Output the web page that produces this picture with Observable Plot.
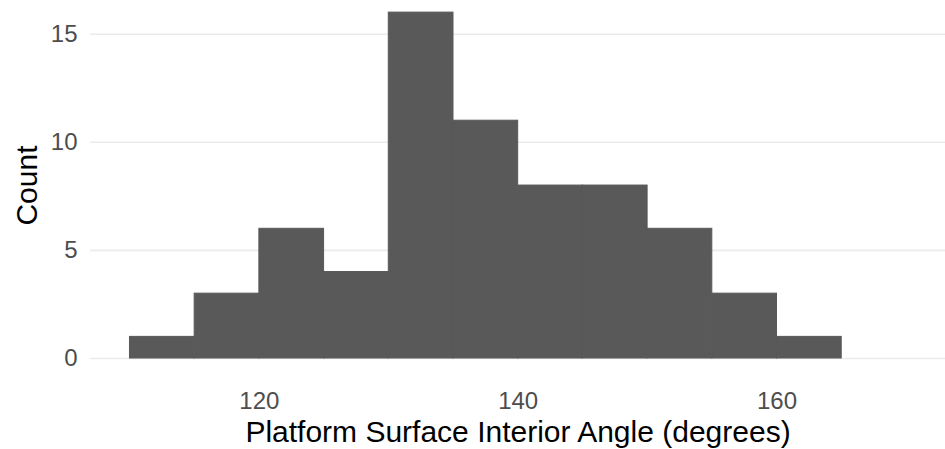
<!DOCTYPE html>
<html>
<head>
<meta charset="utf-8">
<script src="https://cdn.jsdelivr.net/npm/d3@7"></script>
<script src="https://cdn.jsdelivr.net/npm/@observablehq/plot@0.6"></script>
<style>
  html, body { margin: 0; padding: 0; background: #ffffff; }
  #chart svg { display: block; }
</style>
</head>
<body>
<div id="chart"></div>
<script>
// Histogram bins (left edges), bin width and counts
const binStart = [110, 115, 120, 125, 130, 135, 140, 145, 150, 155, 160];
const counts   = [1, 3, 6, 4, 16, 11, 8, 8, 6, 3, 1];
const binWidth = 5;
const xTicks = [120, 140, 160];
const yTicks = [0, 5, 10, 15];
const xTitle = "Platform Surface Interior Angle (degrees)";
const yTitle = "Count";

const bins = binStart.map((s, i) => ({start: s, end: s + binWidth, count: counts[i]}));

const chart = Plot.plot({
  width: 945,
  height: 449,
  marginLeft: 90,
  marginRight: 0,
  marginTop: 0,
  marginBottom: 73.7,
  style: {fontFamily: "'Liberation Sans', Arial, sans-serif", background: "#ffffff", color: "#000"},
  x: {domain: [106.95, 173.02]},
  y: {domain: [-0.8, 16.56]},
  marks: [
    Plot.gridY(yTicks, {stroke: "#ebebeb", strokeOpacity: 1, strokeWidth: 1.6}),
    Plot.rectY(bins, {x1: "start", x2: "end", y1: 0, y2: "count", fill: "#595959", stroke: "#595959", strokeWidth: 1, inset: 0}),
    Plot.axisX(xTicks, {tickSize: 0, tickPadding: 16, fontSize: 24, color: "#4d4d4d", label: null}),
    Plot.axisY(yTicks, {tickSize: 0, tickPadding: 13, fontSize: 24, color: "#4d4d4d", label: null}),
    Plot.text([xTitle], {text: d => d, frameAnchor: "bottom", textAnchor: "middle", lineAnchor: "middle", dy: 56.1, fontSize: 30, fill: "#000"}),
    Plot.text([yTitle], {text: d => d, frameAnchor: "left", textAnchor: "middle", lineAnchor: "middle", rotate: -90, dx: -63, dy: -2.6, fontSize: 30, fill: "#000"})
  ]
});
document.getElementById("chart").appendChild(chart);
</script>
</body>
</html>
